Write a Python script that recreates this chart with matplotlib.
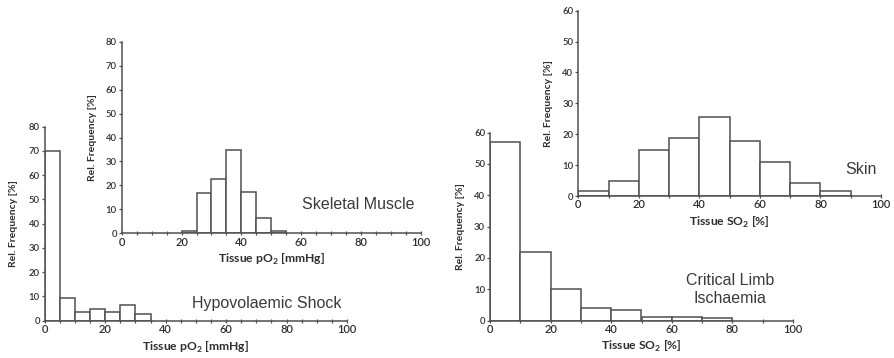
import matplotlib
matplotlib.use("Agg")
import matplotlib.pyplot as plt
import numpy as np

# Data
shock_edges = [0, 5, 10, 15, 20, 25, 30, 35]
shock_vals = [70, 9.3, 3.5, 5.0, 3.5, 6.3, 2.8]

muscle_edges = [20, 25, 30, 35, 40, 45, 50, 55]
muscle_vals = [1.1, 16.8, 22.6, 34.6, 17.4, 6.2, 1.1]

cli_edges = [0, 10, 20, 30, 40, 50, 60, 70, 80]
cli_vals = [57, 22, 10, 4.2, 3.3, 1.3, 1.3, 0.8]

skin_edges = [0, 10, 20, 30, 40, 50, 60, 70, 80, 90]
skin_vals = [1.5, 4.8, 14.8, 18.8, 25.7, 17.9, 11.1, 4.3, 1.5]

ylabel = "Rel. Frequency [%]"
xlabel_po2 = r"Tissue pO$_\mathregular{2}$ [mmHg]"
xlabel_so2 = r"Tissue SO$_\mathregular{2}$ [%]"

EDGE = "#505050"
TXT = "#2e2e2e"
TICKFONT = "Lato"

fig = plt.figure(figsize=(8.94, 3.58), dpi=100)


def make_ax(rect, edges, vals, ymax, xminor, ylab_x):
    ax = fig.add_axes(rect)
    ax.set_facecolor("none")
    widths = np.diff(edges)
    ax.bar(edges[:-1], vals, width=widths, align="edge", facecolor="white",
           edgecolor=EDGE, linewidth=1.1, zorder=2)
    ax.set_xlim(0, 100)
    ax.set_ylim(0, ymax)
    for s in ["top", "right"]:
        ax.spines[s].set_visible(False)
    for s in ["left", "bottom"]:
        ax.spines[s].set_color(EDGE)
        ax.spines[s].set_linewidth(1.1)
    ax.set_xticks(np.arange(0, 101, 20))
    ax.set_xticks(np.arange(0, 101, xminor), minor=True)
    ax.set_yticks(np.arange(0, ymax + 1, 10))
    ax.tick_params(axis="x", which="both", direction="inout", length=3,
                   width=0.9, color=EDGE, labelsize=8, labelcolor=TXT, pad=1)
    ax.tick_params(axis="y", direction="out", length=2.5, width=0.9,
                   color=EDGE, labelsize=6.8, labelcolor=TXT, pad=1)
    for lab in ax.get_xticklabels() + ax.get_yticklabels():
        lab.set_fontfamily(TICKFONT)
        lab.set_fontweight("semibold")
    ax.set_ylabel(ylabel, fontsize=7.5, fontweight="bold", color=TXT,
                  fontfamily=TICKFONT)
    ax.yaxis.set_label_coords(ylab_x, 0.5)
    return ax


W, H = 894.0, 358.0


def rect(x0, x1, y0, y1):
    return [x0 / W, 1 - y0 / H, (x1 - x0) / W, (y0 - y1) / H]


ANN = dict(fontsize=11.5, color="#3a3a3a", fontfamily="Liberation Sans",
           ha="center", va="center")
XL = dict(fontsize=8.7, fontweight="bold", color=TXT, fontfamily=TICKFONT)

ax1 = make_ax(rect(44.7, 347.0, 320.7, 126.7), shock_edges, shock_vals, 80, 5, -0.088)
ax1.set_xlabel(xlabel_po2, labelpad=3.5, **XL)
ax1.text(73.5, 6.9, "Hypovolaemic Shock", **ANN)

ax2 = make_ax(rect(121.7, 421.0, 233.3, 41.7), muscle_edges, muscle_vals, 80, 5, -0.083)
ax2.set_xlabel(xlabel_po2, labelpad=3.0, **XL)
ax2.text(79, 12.2, "Skeletal Muscle", **ANN)

ax3 = make_ax(rect(490.0, 793.0, 320.7, 132.5), cli_edges, cli_vals, 60, 10, -0.083)
ax3.set_xlabel(xlabel_so2, labelpad=3.0, **XL)
ax3.text(79.2, 9.8, "Critical Limb\nIschaemia", linespacing=1.25, **ANN)

ax4 = make_ax(rect(578.3, 881.0, 196.0, 10.7), skin_edges, skin_vals, 60, 10, -0.084)
ax4.set_xlabel(xlabel_so2, labelpad=3.0, **XL)
ax4.text(93.4, 8.6, "Skin", **ANN)

fig.savefig("out.png", dpi=100)
